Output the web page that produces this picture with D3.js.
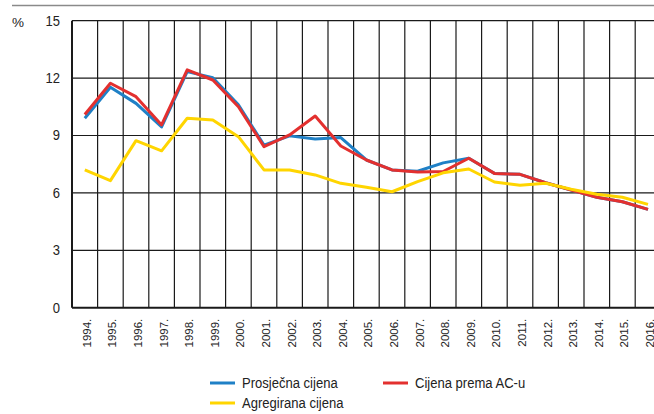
<!DOCTYPE html>
<html>
<head>
<meta charset="utf-8">
<script src="https://cdn.jsdelivr.net/npm/d3@7"></script>
<style>
	body { margin: 0; background: #fff; }
	svg { display: block; }
</style>
</head>
<body>
<div id="chart"></div>
<script>
	'use strict';
	// data
	var years = ['1994.', '1995.', '1996.', '1997.', '1998.', '1999.', '2000.', '2001.', '2002.', '2003.', '2004.', '2005.',
		'2006.', '2007.', '2008.', '2009.', '2010.', '2011.', '2012.', '2013.', '2014.', '2015.', '2016.'];
	var prosjecna = [9.9, 11.52, 10.68, 9.45, 12.34, 12.02, 10.6, 8.5, 8.98, 8.82, 8.89, 7.72,
		7.2, 7.13, 7.57, 7.81, 7.02, 6.97, 6.53, 6.15, 5.77, 5.54, 5.14];
	var premaAC = [10.1, 11.73, 11.03, 9.55, 12.43, 11.9, 10.5, 8.42, 9.03, 10.02, 8.45, 7.72,
		7.2, 7.09, 7.12, 7.81, 7.02, 6.97, 6.53, 6.15, 5.77, 5.54, 5.14];
	var agregirana = [7.2, 6.64, 8.73, 8.2, 9.9, 9.81, 8.94, 7.2, 7.2, 6.94, 6.5, 6.29,
		6.06, 6.59, 7.05, 7.25, 6.57, 6.4, 6.5, 6.19, 5.93, 5.77, 5.4];
	var yTicks = [0, 3, 6, 9, 12, 15];
	var seriesNames = ['Prosječna cijena', 'Cijena prema AC-u', 'Agregirana cijena'];
	var seriesColors = ['#1f80c6', '#e3302f', '#ffd500'];

	var width = 654, height = 414;
	var margin = {top: 20.7, left: 72, bottom: 307.7};
	var colW = 25.6;
	var font = '"Liberation Sans", Arial, sans-serif';
	var narrow = 0.9; // fake condensed face

	var svg = d3.select('#chart')
		.append('svg')
		.attr('width', width)
		.attr('height', height);

	// grey rule at the very top
	svg.append('line')
		.attr('x1', 12).attr('x2', width)
		.attr('y1', 5.5).attr('y2', 5.5)
		.attr('stroke', '#8a8a8a')
		.attr('stroke-width', 1.5);

	var x = d3.scaleBand()
		.domain(years)
		.range([margin.left, margin.left + years.length * colW])
		.padding(0);
	var y = d3.scaleLinear()
		.domain([0, 15])
		.range([margin.bottom, margin.top]);

	var grid = svg.append('g');
	// horizontal gridlines
	grid.selectAll('line.h')
		.data(yTicks)
		.enter().append('line')
		.attr('class', 'h')
		.attr('x1', margin.left).attr('x2', x.range()[1])
		.attr('y1', function (d) { return y(d); })
		.attr('y2', function (d) { return y(d); })
		.attr('stroke', '#1a1a1a')
		.attr('stroke-width', function (d) { return d === 0 ? 2 : 1.2; });
	// vertical gridlines at column edges
	var edges = years.map(function (d) { return x(d); }).concat([x.range()[1]]);
	grid.selectAll('line.v')
		.data(edges)
		.enter().append('line')
		.attr('class', 'v')
		.attr('x1', function (d) { return d; })
		.attr('x2', function (d) { return d; })
		.attr('y1', y(15)).attr('y2', y(0))
		.attr('stroke', '#1a1a1a')
		.attr('stroke-width', function (d, i) { return i === 0 ? 2 : 1.2; });

	// y axis labels
	var yAxis = d3.axisLeft(y).tickValues(yTicks).tickSize(0).tickPadding(12);
	var gy = svg.append('g')
		.attr('transform', 'translate(' + margin.left + ',0)')
		.call(yAxis);
	gy.select('.domain').remove();
	gy.selectAll('text')
		.attr('font-family', font)
		.attr('font-size', 14)
		.attr('fill', '#222')
		.attr('x', -12 / 0.93)
		.attr('transform', 'scale(0.93,1)');

	svg.append('text')
		.attr('x', 12).attr('y', 27)
		.attr('font-family', font)
		.attr('font-size', 13.5)
		.attr('fill', '#222')
		.text('%');

	// x axis labels, rotated
	var xAxis = d3.axisBottom(x).tickSize(0).tickPadding(0);
	var gx = svg.append('g')
		.attr('transform', 'translate(2,' + margin.bottom + ')')
		.call(xAxis);
	gx.select('.domain').remove();
	gx.selectAll('text')
		.attr('font-family', font)
		.attr('font-size', 11.5)
		.attr('fill', '#222')
		.attr('transform', 'rotate(-90)')
		.attr('text-anchor', 'end')
		.attr('x', -11)
		.attr('y', 0)
		.attr('dy', '0.35em');

	var line = d3.line()
		.x(function (d, i) { return x(years[i]) + x.bandwidth() / 2; })
		.y(function (d) { return y(d); });

	[prosjecna, premaAC, agregirana].forEach(function (s, i) {
		svg.append('path')
			.datum(s)
			.attr('fill', 'none')
			.attr('stroke', seriesColors[i])
			.attr('stroke-width', 3)
			.attr('stroke-linejoin', 'round')
			.attr('d', line);
	});

	// legend
	var legendPos = [{x: 210, y: 383}, {x: 383, y: 383}, {x: 210, y: 403}];
	var legend = svg.selectAll('g.legend')
		.data(seriesNames)
		.enter().append('g')
		.attr('class', 'legend')
		.attr('transform', function (d, i) { return 'translate(' + legendPos[i].x + ',' + legendPos[i].y + ')'; });
	legend.append('line')
		.attr('x1', 0).attr('x2', 25)
		.attr('y1', 0).attr('y2', 0)
		.attr('stroke', function (d, i) { return seriesColors[i]; })
		.attr('stroke-width', 3);
	legend.append('text')
		.attr('transform', 'translate(32,0) scale(' + narrow + ',1)')
		.attr('dy', '0.36em')
		.attr('font-family', font)
		.attr('font-size', 14.5)
		.attr('fill', '#222')
		.text(function (d) { return d; });
</script>
</body>
</html>
